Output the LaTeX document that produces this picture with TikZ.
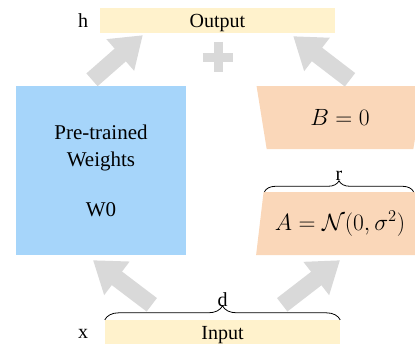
\RequirePackage{fix-cm}
\documentclass[tikz,border=0pt]{standalone}
\usepackage[no-math]{fontspec}
\setmainfont{Liberation Serif}
\usepackage{amsmath}
\usepackage{xcolor}
\usetikzlibrary{positioning,arrows.meta,shapes.geometric,decorations.pathreplacing}
\definecolor{lorablue}{RGB}{166, 213, 250}
\definecolor{lorapeach}{RGB}{250, 215, 185}
\definecolor{lorayellow}{RGB}{255, 242, 204}
\definecolor{loragray}{RGB}{217, 217, 217}

\tikzset{
  iobox/.style={fill=lorayellow, minimum width=235, minimum height=25, inner sep=0, text depth=0},
  bigarrow/.style={draw=loragray, line width=17, -{Triangle[length=30, width=40]}},
  lowrank/.style={trapezium, fill=lorapeach, trapezium stretches=true,
    trapezium angle=75.7, minimum width=168, minimum height=63, inner sep=0,
    font=\fontsize{23.5}{28}\selectfont},
  dimbrace/.style={decorate, decoration={brace}, line width=0.8}
}

\begin{document}
\begin{tikzpicture}[x=1pt, y=-1pt, font=\fontsize{20}{24}\selectfont]
\useasboundingbox (0,0) rectangle (415,343);
\clip (0,0) rectangle (415,343);
\node[iobox] (output) at (217.5,20.5) {Output};
\node[iobox, minimum height=26] (input) at (222.5,333) {Input};
\node[text depth=0] (h) at (83,20.5) {h};
\node[text depth=0] (x) at (83,334) {x};
\node[fill=lorablue, minimum width=170, minimum height=169, inner sep=0,
  align=center, font=\fontsize{21}{25}\selectfont] (w0) at (101,170.5)
  {Pre-trained\\[2pt]Weights\\[25pt]W0};
\node[lowrank, shape border rotate=180] (bmat) at (340,117.5) {$B = 0$};
\node[lowrank] (amat) at (340,223.5) {$A = \mathcal{N}(0, \sigma^2)$};

% arrows
\draw[bigarrow] ([xshift=47,yshift=15]input.north west) -- ([xshift=-8,yshift=-5]w0.south);
\draw[bigarrow] ([xshift=-58,yshift=15]input.north east) -- ([xshift=0,yshift=-5]amat.south);
\draw[bigarrow] ([xshift=-9,yshift=6]w0.north) -- ([xshift=43,yshift=-2]output.south west);
\draw[bigarrow] ([xshift=10,yshift=6]bmat.north) -- ([xshift=-42,yshift=-3]output.south east);

% plus
\node[minimum size=30] (plus) at (218,57) {};
\draw[loragray, line width=9] (plus.west) -- (plus.east) (plus.north) -- (plus.south);

% dimensions
\draw[dimbrace, decoration={amplitude=14}] (input.north west) -- (input.north east)
  node[midway, anchor=south, yshift=13, inner sep=0] (dlab) {d};
\draw[dimbrace, decoration={amplitude=11}] ([xshift=1]amat.top left corner) -- ([xshift=-3]amat.top right corner)
  node[midway, anchor=south, yshift=11, inner sep=0] (rlab) {r};
\end{tikzpicture}
\end{document}
